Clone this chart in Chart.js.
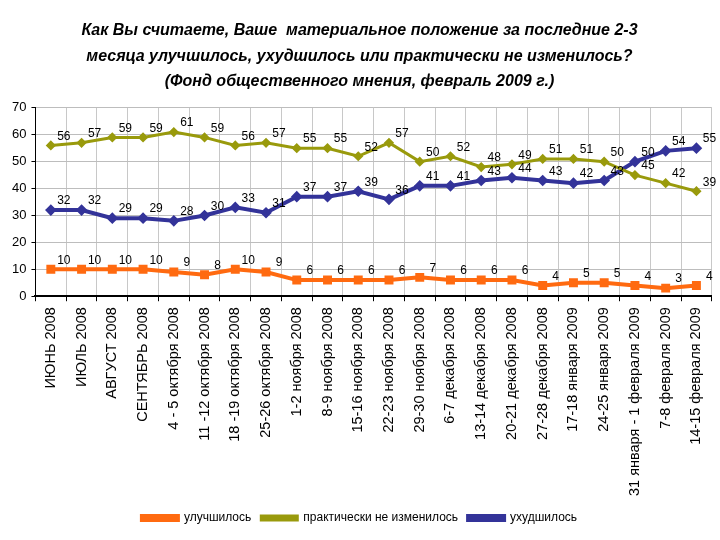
<!DOCTYPE html>
<html>
<head>
<meta charset="utf-8">
<script src="https://cdn.jsdelivr.net/npm/chart.js@4.4.4/dist/chart.umd.min.js"></script>
<style>
  html, body { margin: 0; padding: 0; background: #fff; }
  #wrap { width: 720px; height: 540px; }
</style>
</head>
<body>
<div id="wrap"><canvas id="chart" width="720" height="540"></canvas></div>
<script>
// survey dates (FOM, June 2008 - February 2009)
const periods = [
  'ИЮНЬ 2008', 'ИЮЛЬ 2008', 'АВГУСТ 2008', 'СЕНТЯБРЬ 2008',
  '4 - 5 октября 2008', '11 -12 октября 2008', '18 -19 октября 2008', '25-26 октября 2008',
  '1-2 ноября 2008', '8-9 ноября 2008', '15-16 ноября 2008', '22-23 ноября 2008',
  '29-30 ноября 2008', '6-7 декабря 2008', '13-14 декабря 2008', '20-21 декабря 2008',
  '27-28 декабря 2008', '17-18 января 2009', '24-25 января 2009',
  '31 января - 1 февраля 2009', '7-8 февраля 2009', '14-15 февраля 2009'
];

const improved = [10, 10, 10, 10, 9, 8, 10, 9, 6, 6, 6, 6, 7, 6, 6, 6, 4, 5, 5, 4, 3, 4];
const unchanged = [56, 57, 59, 59, 61, 59, 56, 57, 55, 55, 52, 57, 50, 52, 48, 49, 51, 51, 50, 45, 42, 39];
const worsened = [32, 32, 29, 29, 28, 30, 33, 31, 37, 37, 39, 36, 41, 41, 43, 44, 43, 42, 43, 50, 54, 55];

const yTicks = [0, 10, 20, 30, 40, 50, 60, 70];

const titleLines = [
  'Как Вы считаете, Ваше  материальное положение за последние 2-3',
  'месяца улучшилось, ухудшилось или практически не изменилось?',
  '(Фонд общественного мнения, февраль 2009 г.)'
];

const ORANGE = '#ff6a10';
const OLIVE = '#999a0c';
const NAVY = '#333399';

// value labels next to each point
const pointLabels = {
  id: 'pointLabels',
  afterDatasetsDraw(chart) {
    const ctx = chart.ctx;
    ctx.save();
    ctx.font = '12px "Liberation Sans", Arial, sans-serif';
    ctx.fillStyle = '#000';
    ctx.textAlign = 'center';
    ctx.textBaseline = 'middle';
    chart.data.datasets.forEach((ds, i) => {
      const meta = chart.getDatasetMeta(i);
      meta.data.forEach((pt, j) => {
        ctx.fillText(ds.data[j], pt.x + 13, pt.y - 9);
      });
    });
    ctx.restore();
  }
};

const data = {
  labels: periods,
  datasets: [
    {
      label: 'улучшилось',
      data: improved,
      borderColor: ORANGE,
      backgroundColor: ORANGE,
      borderWidth: 4,
      pointStyle: 'rect',
      pointRadius: 3.5,
      tension: 0
    },
    {
      label: 'практически не изменилось',
      data: unchanged,
      borderColor: OLIVE,
      backgroundColor: OLIVE,
      borderWidth: 3,
      pointStyle: 'rectRot',
      pointRadius: 3,
      tension: 0
    },
    {
      label: 'ухудшилось',
      data: worsened,
      borderColor: NAVY,
      backgroundColor: NAVY,
      borderWidth: 4,
      pointStyle: 'rectRot',
      pointRadius: 3,
      tension: 0
    }
  ]
};

const options = {
  responsive: false,
  animation: false,
  layout: { padding: { left: 7, right: 8, bottom: 6 } },
  plugins: {
    title: {
      display: true,
      text: titleLines,
      color: '#000',
      font: { family: '"Liberation Sans", Arial, sans-serif', size: 16, weight: 'bold', style: 'italic', lineHeight: 1.6 },
      padding: { top: 18, bottom: 13 }
    },
    legend: {
      position: 'bottom',
      labels: {
        color: '#000',
        font: { family: '"Liberation Sans", Arial, sans-serif', size: 12 },
        boxWidth: 36,
        boxHeight: 4,
        padding: 10
      }
    },
    tooltip: { enabled: false }
  },
  scales: {
    x: {
      offset: true,
      grid: { offset: true, color: '#c8c8c8', tickColor: '#000', tickLength: 5 },
      border: { color: '#000', width: 2 },
      ticks: {
        color: '#000',
        font: { family: '"Liberation Sans", Arial, sans-serif', size: 14.5 },
        maxRotation: 90,
        minRotation: 90,
        autoSkip: false,
        padding: 6
      }
    },
    y: {
      min: 0,
      max: 70,
      afterBuildTicks: scale => { scale.ticks = yTicks.map(v => ({ value: v })); },
      grid: { color: '#bdbdbd', tickColor: '#000', tickLength: 4 },
      border: { color: '#000', width: 1 },
      ticks: {
        color: '#000',
        font: { family: '"Liberation Sans", Arial, sans-serif', size: 13 },
        padding: 5
      }
    }
  }
};

new Chart(document.getElementById('chart'), { type: 'line', data, options, plugins: [pointLabels] });
</script>
</body>
</html>
